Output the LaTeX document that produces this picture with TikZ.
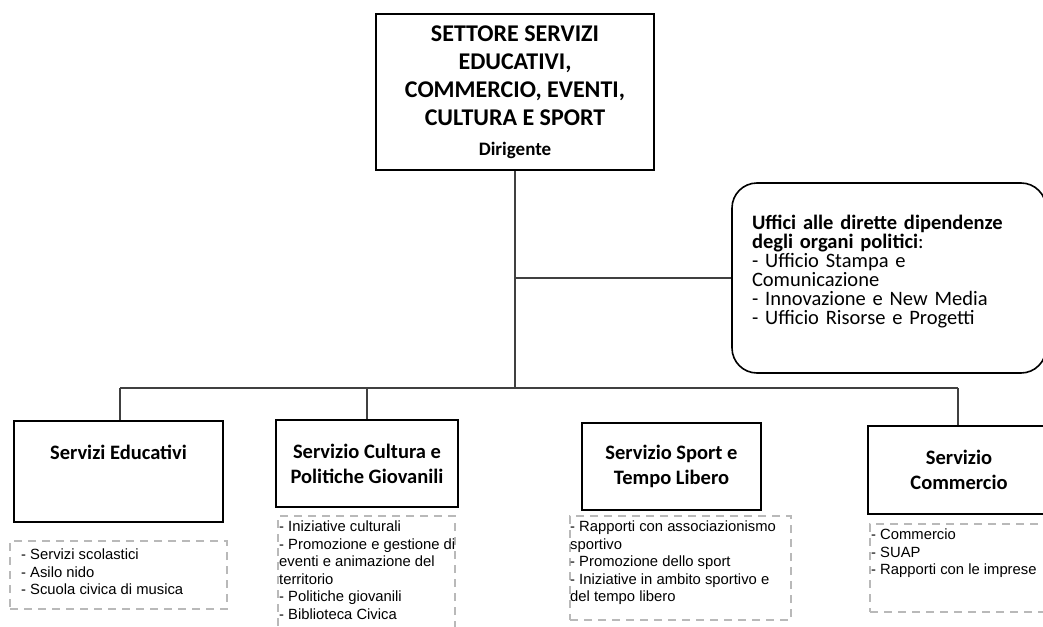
\documentclass[tikz,border=0pt]{standalone}
\usepackage{fontspec}
\setmainfont{Carlito}
\newfontfamily\listfont{Liberation Sans}
\usepackage{xcolor}
\usepackage{tikz}
\usetikzlibrary{positioning, calc}

\begin{document}
\begin{tikzpicture}[x=1pt, y=-1pt,
    unit/.style={draw, line width=1.6pt, align=center, inner sep=0pt, font=\bfseries\fontsize{20.5}{25}\selectfont},
    listbox/.style={draw=gray!55, line width=2pt, dash pattern=on 8pt off 6pt, inner sep=0pt},
    listtext/.style={anchor=north west, align=left, inner sep=0pt, font=\listfont\fontsize{14.8}{17.5}\selectfont},
    link/.style={draw=black!75, line width=1.2pt}
]
    \useasboundingbox (0,0) rectangle (1043,626);

    \node[unit, minimum width=278, minimum height=156, font=\bfseries\fontsize{24}{28}\selectfont] (settore) at (515,92) {SETTORE SERVIZI\\EDUCATIVI,\\COMMERCIO, EVENTI,\\CULTURA E SPORT\\[2pt]{\fontsize{19}{28}\selectfont Dirigente}};
    \node[draw, line width=1.6pt, rounded corners=25pt, minimum width=314, minimum height=190, text width=274, align=left, inner sep=0pt, font=\fontsize{20.5}{19}\selectfont] (uffici) at (889,278) {\textbf{Uffici alle dirette dipendenze}\\\textbf{degli organi politici}:\\- Ufficio Stampa e\\Comunicazione\\- Innovazione e New Media\\- Ufficio Risorse e Progetti\\[-3.5pt]\mbox{}};

    \node[unit, minimum width=209, minimum height=101] (edu) at (118.5,471.5) {Servizi Educativi\\[14pt]\mbox{}};
    \node[unit, minimum width=182, minimum height=87] (cultura) at (367,463.5) {Servizio Cultura e\\Politiche Giovanili};
    \node[unit, minimum width=179, minimum height=87] (sport) at (671.5,466.5) {Servizio Sport e\\Tempo Libero};
    \node[unit, minimum width=182, minimum height=88] (commercio) at (959,470) {Servizio\\Commercio};

    \node[listbox, minimum width=217, minimum height=68] (eduframe) at (118.5,575) {};
    \node[listtext] (edulist) at ([shift={(12,8.6)}]eduframe.north west) {- Servizi scolastici\\- Asilo nido\\- Scuola civica di musica};
    \node[listbox, minimum width=177, minimum height=118] (culturaframe) at (366.5,575) {};
    \node[listtext] (culturalist) at ([shift={(2,5.6)}]culturaframe.north west) {- Iniziative culturali\\- Promozione e gestione di\\eventi e animazione del\\territorio\\- Politiche giovanili\\- Biblioteca Civica};
    \node[listbox, minimum width=221, minimum height=104] (sportframe) at (680.5,568) {};
    \node[listtext] (sportlist) at ([shift={(1,5.6)}]sportframe.north west) {- Rapporti con associazionismo\\sportivo\\- Promozione dello sport\\- Iniziative in ambito sportivo e\\del tempo libero};
    \node[listbox, minimum width=180, minimum height=88] (commercioframe) at (960,568) {};
    \node[listtext] (commerciolist) at ([shift={(2,5.6)}]commercioframe.north west) {- Commercio\\- SUAP\\- Rapporti con le imprese};

    \coordinate (hook) at (515,278);
    \coordinate (busL) at (120,388);
    \coordinate (busR) at (958,388);

    \draw[link] (settore.south) -- (settore.south |- busL);
    \draw[link] (hook) -- (uffici.west);
    \draw[link] (busL) -- (busR);
    \draw[link] (busL) -- (busL |- edu.north);
    \draw[link] (cultura.north) -- (cultura.north |- busL);
    \draw[link] (busR) -- (busR |- commercio.north);
\end{tikzpicture}
\end{document}
